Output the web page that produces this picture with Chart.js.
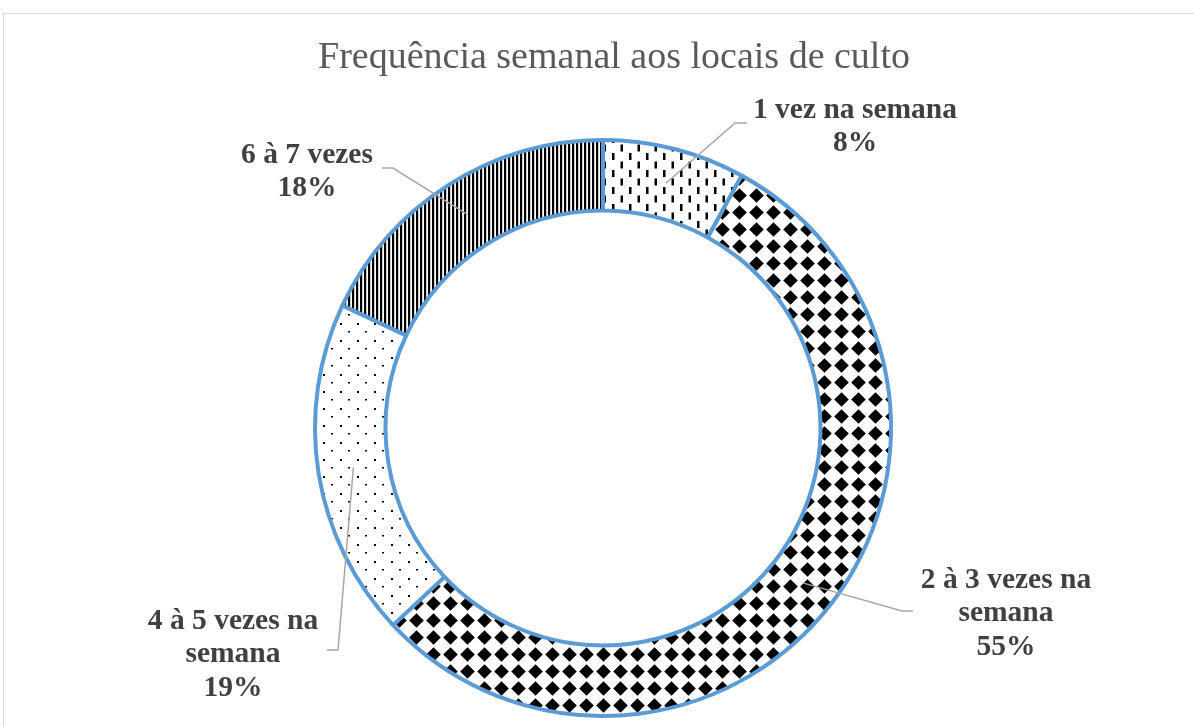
<!DOCTYPE html>
<html>
<head>
<meta charset="utf-8">
<script src="https://cdn.jsdelivr.net/npm/chart.js@4.4.1/dist/chart.umd.min.js"></script>
<style>
  html, body { margin: 0; padding: 0; background: #ffffff; }
  canvas { display: block; }
</style>
</head>
<body>
<canvas id="c" width="1194" height="727"></canvas>
<script>
// ---- data ----
const chartTitle = "Frequência semanal aos locais de culto";
const categories = ["1 vez na semana", "2 à 3 vezes na semana", "4 à 5 vezes na semana", "6 à 7 vezes"];
const categoryLines = [["1 vez na semana"], ["2 à 3 vezes na", "semana"], ["4 à 5 vezes na", "semana"], ["6 à 7 vezes"]];
const values = [8, 55, 19, 18];

// ---- patterns ----
function makePattern(w, h, draw) {
  const c = document.createElement('canvas');
  c.width = w; c.height = h;
  const g = c.getContext('2d');
  g.fillStyle = '#ffffff';
  g.fillRect(0, 0, w, h);
  g.fillStyle = '#000000';
  draw(g);
  return document.getElementById('c').getContext('2d').createPattern(c, 'repeat');
}
const patDashes = makePattern(17, 17, g => {
  g.fillRect(0, 0, 2.5, 7);
  g.fillRect(8.5, 8.5, 2.5, 7);
});
const patDiamonds = makePattern(17, 17, g => {
  g.beginPath();
  g.moveTo(8.5, 1.2); g.lineTo(15.8, 8.5); g.lineTo(8.5, 15.8); g.lineTo(1.2, 8.5);
  g.closePath(); g.fill();
  g.fillRect(5, 5, 7, 7);
});
const patDots = makePattern(17, 17, g => {
  g.fillRect(0, 0, 2, 2);
  g.fillRect(8, 8, 2, 1.5);
});
const patStripes = makePattern(4, 4, g => {
  g.fillRect(0, 0, 2.2, 4);
});
const fills = [patDashes, patDiamonds, patDots, patStripes];

// label layout (styles): text centre, first line y, elbow and end of leader
const labelLayout = [
  { cx: 855, y0: 110, elbow: [735, 123], end: [747, 123] },
  { cx: 1006, y0: 580, elbow: [902, 611], end: [913, 611] },
  { cx: 233, y0: 621, elbow: [338, 650], end: [327, 650] },
  { cx: 307, y0: 155, elbow: [393, 168], end: [382, 168] }
];

const framePlugin = {
  id: 'frame',
  beforeDraw(chart) {
    const ctx = chart.ctx;
    ctx.save();
    ctx.strokeStyle = '#D9D9D9';
    ctx.lineWidth = 1;
    ctx.strokeRect(3.5, 13.5, 1200, 800);
    ctx.restore();
  }
};

const titlePlugin = {
  id: 'customTitle',
  afterDraw(chart) {
    const ctx = chart.ctx;
    ctx.save();
    ctx.fillStyle = '#595959';
    ctx.font = '38px "Liberation Serif"';
    ctx.textAlign = 'center';
    ctx.textBaseline = 'middle';
    ctx.fillText(chartTitle, 614, 58);
    ctx.restore();
  }
};

const labelPlugin = {
  id: 'leaderLabels',
  afterDatasetsDraw(chart) {
    const ctx = chart.ctx;
    const meta = chart.getDatasetMeta(0);
    const total = values.reduce((a, b) => a + b, 0);
    ctx.save();
    meta.data.forEach((arc, i) => {
      const p = arc.tooltipPosition();
      const L = labelLayout[i];
      ctx.strokeStyle = '#A6A6A6';
      ctx.lineWidth = 1.5;
      ctx.beginPath();
      ctx.moveTo(p.x, p.y);
      ctx.lineTo(L.elbow[0], L.elbow[1]);
      ctx.lineTo(L.end[0], L.end[1]);
      ctx.stroke();
      const lines = categoryLines[i].concat([Math.round(values[i] / total * 100) + '%']);
      ctx.fillStyle = '#404040';
      ctx.font = 'bold 29.5px "Liberation Serif"';
      ctx.textAlign = 'center';
      ctx.textBaseline = 'middle';
      lines.forEach((t, k) => ctx.fillText(t, L.cx, L.y0 + k * 33.5));
    });
    ctx.restore();
  }
};

new Chart(document.getElementById('c'), {
  type: 'doughnut',
  data: {
    labels: categories,
    datasets: [{
      data: values,
      backgroundColor: fills,
      borderColor: '#5B9BD5',
      borderWidth: 4,
      hoverOffset: 0
    }]
  },
  options: {
    responsive: false,
    animation: false,
    cutout: '75.5%',
    layout: { padding: { top: 138, bottom: 9, left: 12, right: 0 } },
    plugins: {
      legend: { display: false },
      tooltip: { enabled: false },
      title: { display: false }
    }
  },
  plugins: [framePlugin, titlePlugin, labelPlugin]
});
</script>
</body>
</html>
